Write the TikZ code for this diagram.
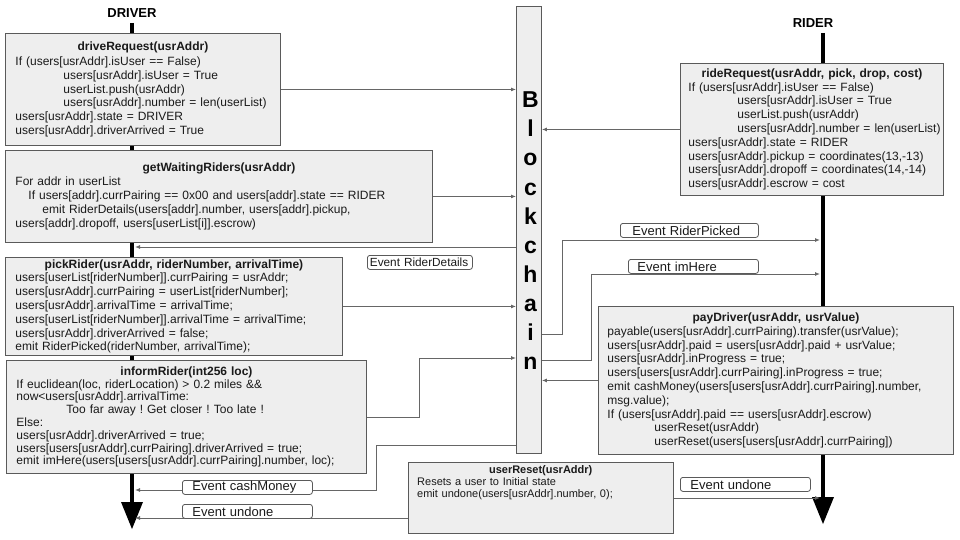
\documentclass[tikz,border=0pt]{standalone}
\usepackage{fontspec}
\setmainfont{Liberation Sans}
\usetikzlibrary{arrows.meta}
\frenchspacing
\definecolor{boxfill}{HTML}{EEEEEE}
\definecolor{boxline}{HTML}{5A5A5A}
\definecolor{wirecol}{HTML}{666666}
\definecolor{txtcol}{HTML}{1A1A1A}
\tikzset{
  fnbox/.style={draw=boxline, fill=boxfill, line width=0.9pt, inner sep=0pt, anchor=north west, text=txtcol, font=\fontsize{12}{13.8}\selectfont},
  fntext/.style={inner sep=0pt, anchor=north west, text=txtcol, font=\fontsize{11}{12.3}\selectfont},
  conn/.style={draw=wirecol, line width=0.9pt, -{Latex[length=5pt,width=4pt]}},
  evlabel/.style={draw=boxline, fill=white, rounded corners=2.5pt, line width=0.8pt, inner ysep=0pt, minimum height=14pt, anchor=north west, align=left, text=txtcol, font=\fontsize{13}{13}\selectfont, text width=#1},
  lifeline/.style={line width=4pt, draw=black},
  lifehead/.style={fill=black},
  actor/.style={font=\fontsize{13}{13}\selectfont\bfseries, text=black},
  bletter/.style={font=\fontsize{23}{23}\selectfont\bfseries, text=black, anchor=base, inner sep=0pt},
}
\begin{document}
\begin{tikzpicture}[x=1pt,y=-1pt]
\useasboundingbox (0,0) rectangle (960,540);

% actors
\node[actor] (driver) at (132,13) {DRIVER};
\node[actor] (rider) at (813,23) {RIDER};

% lifelines
\coordinate (dtop) at (132,23);
\coordinate (dend) at (132,503);
\coordinate (rtop) at (823,33);
\coordinate (rend) at (823,498);
\draw[lifeline] (dtop) -- (dend);
\draw[lifeline] (rtop) -- (rend);
\fill[lifehead] (121,502) -- (143,502) -- (132,529) -- cycle;
\fill[lifehead] (812,497) -- (834,497) -- (823,524) -- cycle;

% blockchain
\node[draw=boxline, fill=boxfill, line width=0.9pt, minimum width=25pt, minimum height=447pt, inner sep=0pt, anchor=north west] (block) at (516,6) {};
\foreach \ch [count=\i] in {B,l,o,c,k,c,h,a,i,n}
  \node[bletter] (bl\i) at (530.5,{108+29*(\i-1)}) {\ch};

% driver boxes
\node[fnbox, minimum width=275pt, minimum height=112pt, text width=255pt] (drive) at (5,33) {%
\centering\textbf{driveRequest(usrAddr)}\par\vspace{1pt}\raggedright
If (users[usrAddr].isUser == False)\\
\hspace*{48pt}users[usrAddr].isUser = True\\
\hspace*{48pt}userList.push(usrAddr)\\
\hspace*{48pt}users[usrAddr].number = len(userList)\\
users[usrAddr].state = DRIVER\\
users[usrAddr].driverArrived = True};

\node[fnbox, minimum width=427pt, minimum height=92pt, text width=407pt] (wait) at (5,150) {%
\centering\textbf{getWaitingRiders(usrAddr)}\par\raggedright
For addr in userList\\
\hspace*{13pt}If users[addr].currPairing == 0x00 and users[addr].state == RIDER\\
\hspace*{27pt}emit RiderDetails(users[addr].number, users[addr].pickup,\\
users[addr].dropoff, users[userList[i]].escrow)};

\node[fnbox, minimum width=337pt, minimum height=98pt, text width=317pt] (pick) at (5,257) {%
\centering\textbf{pickRider(usrAddr, riderNumber, arrivalTime)}\par\raggedright
users[userList[riderNumber]].currPairing = usrAddr;\\
users[usrAddr].currPairing = userList[riderNumber];\\
users[usrAddr].arrivalTime = arrivalTime;\\
users[userList[riderNumber]].arrivalTime = arrivalTime;\\
users[usrAddr].driverArrived = false;\\
emit RiderPicked(riderNumber, arrivalTime);};

\node[fnbox, minimum width=360pt, minimum height=113pt, text width=340pt, font=\fontsize{12}{12.8}\selectfont] (inform) at (6,360) {%
\centering\textbf{informRider(int256 loc)}\par\raggedright
If euclidean(loc, riderLocation) > 0.2 miles \&\&\\
now<users[usrAddr].arrivalTime:\\
\hspace*{50pt}Too far away ! Get closer ! Too late !\\
Else:\\
users[usrAddr].driverArrived = true;\\
users[users[usrAddr].currPairing].driverArrived = true;\\
emit imHere(users[users[usrAddr].currPairing].number, loc);};

% rider boxes
\node[fnbox, minimum width=263pt, minimum height=132pt, text width=247pt] (ride) at (680,63) {%
\centering\textbf{rideRequest(usrAddr, pick, drop, cost)}\par\raggedright
If (users[usrAddr].isUser == False)\\
\hspace*{49pt}users[usrAddr].isUser = True\\
\hspace*{49pt}userList.push(usrAddr)\\
\hspace*{49pt}\mbox{users[usrAddr].number = len(userList)}\\
users[usrAddr].state = RIDER\\
users[usrAddr].pickup = coordinates(13,-13)\\
users[usrAddr].dropoff = coordinates(14,-14)\\
users[usrAddr].escrow = cost};

\node[fnbox, minimum width=355pt, minimum height=148pt, text width=337pt] (pay) at (598,306) {%
\centering\textbf{payDriver(usrAddr, usrValue)}\par\raggedright
payable(users[usrAddr].currPairing).transfer(usrValue);\\
users[usrAddr].paid = users[usrAddr].paid + usrValue;\\
users[usrAddr].inProgress = true;\\
users[users[usrAddr].currPairing].inProgress = true;\\
emit cashMoney(users[users[usrAddr].currPairing].number,\\
msg.value);\\
If (users[usrAddr].paid == users[usrAddr].escrow)\\
\hspace*{47pt}userReset(usrAddr)\\
\hspace*{47pt}userReset(users[users[usrAddr].currPairing])};

% reset box
\node[fnbox, minimum width=265pt, minimum height=71pt] (reset) at (408,462) {};
\node[fntext, text width=247pt] (resettext) at (417,465) {%
\centering\textbf{userReset(usrAddr)}\par\raggedright
Resets a user to Initial state\\
emit undone(users[usrAddr].number, 0);};

% helper coordinates
\coordinate (dl) at (135,0);
\coordinate (rl) at (820,0);
\coordinate (yDet) at (0,247);
\coordinate (yInf) at (0,358);
\coordinate (xInf) at (419,0);
\coordinate (yBot) at (0,445);
\coordinate (xCash) at (376,0);
\coordinate (yCash) at (0,490);
\coordinate (yUndL) at (0,518);
\coordinate (yPick) at (0,334);
\coordinate (yPickR) at (0,240);
\coordinate (xPick) at (562,0);
\coordinate (yHere) at (0,360);
\coordinate (yHereR) at (0,274);
\coordinate (xHere) at (591,0);

% connectors
\draw[conn] (drive.east) -- (drive.east -| block.west);
\draw[conn] (ride.west) -- (ride.west -| block.east);
\draw[conn] (wait.east) -- (wait.east -| block.west);
\draw[conn] (block.west |- yDet) -- (dl |- yDet);
\draw[conn] (pick.east) -- (pick.east -| block.west);
\draw[conn] (inform.east) -| (xInf |- yInf) -- (block.west |- yInf);
\draw[conn] (block.west |- yBot) -| (xCash |- yCash) -- (dl |- yCash);
\draw[conn] (reset.west |- yUndL) -- (dl |- yUndL);
\draw[conn] (reset.east) -- (rl |- reset.east);
\draw[conn] (block.east |- yPick) -| (xPick |- yPickR) -- (rl |- yPickR);
\draw[conn] (block.east |- yHere) -| (xHere |- yHereR) -- (rl |- yHereR);
\draw[conn] (pay.west) -- (pay.west -| block.east);

% event labels
\node[evlabel=100pt, inner xsep=2.5pt, font=\fontsize{11.8}{12}\selectfont] (evdet) at (367,255) {\mbox{Event RiderDetails}};
\node[evlabel=114pt, inner xsep=12pt] (evpick) at (620,223) {\mbox{Event RiderPicked}};
\node[evlabel=112pt, inner xsep=9pt] (evhere) at (628,259) {\mbox{Event imHere}};
\node[evlabel=110pt, inner xsep=10pt] (evcash) at (182,480) {\mbox{Event cashMoney}};
\node[evlabel=110pt, inner xsep=10pt] (evundl) at (182,504) {\mbox{Event undone}};
\node[evlabel=110pt, inner xsep=10pt] (evundr) at (680,477) {\mbox{Event undone}};
\end{tikzpicture}
\end{document}
